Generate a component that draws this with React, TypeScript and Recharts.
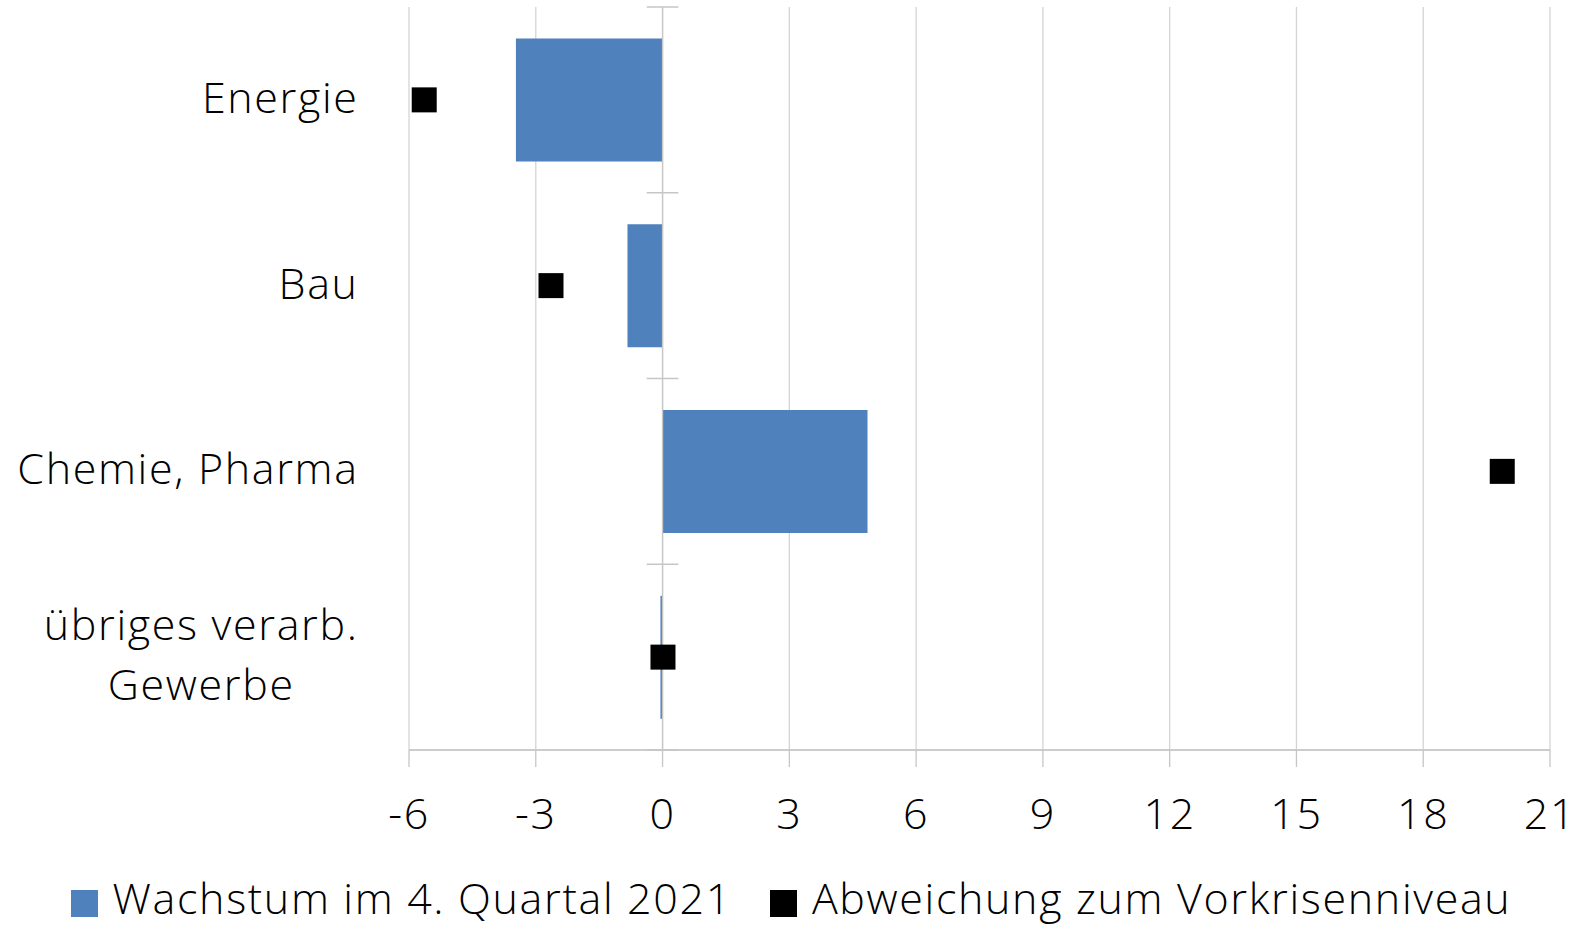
import React from "react";
import {
  ComposedChart,
  Bar,
  Line,
  XAxis,
  YAxis,
  CartesianGrid,
  ReferenceLine,
  Legend,
} from "recharts";

const categories = ["Energie", "Bau", "Chemie, Pharma", "übriges verarb. Gewerbe"];
const growthQ4 = [-3.47, -0.83, 4.85, -0.05];
const deviationPreCrisis = [-5.64, -2.64, 19.87, 0.01];
const xTicks = [-6, -3, 0, 3, 6, 9, 12, 15, 18, 21];
const seriesNames = ["Wachstum im 4. Quartal 2021", "Abweichung zum Vorkrisenniveau"];
const seriesColors = ["#4F81BD", "#000000"];
const categoryBoundaries = [0, 1, 2, 3, 4];

const data = categories.map((name, i) => ({
  name,
  growth: growthQ4[i],
  dev: deviationPreCrisis[i],
  slot: i + 0.5,
}));

const FONT = "'Open Sans', 'DejaVu Sans', sans-serif";
const FONT_SIZE = 43;
const FONT_WEIGHT = 300;
const LS = 1.65;
const GRID = "#d4d4d4";
const AXIS = "#c6c6c6";

let measureCtx: CanvasRenderingContext2D | null = null;
function measure(s: string): number {
  if (!measureCtx) {
    const c = document.createElement("canvas");
    measureCtx = c.getContext("2d");
  }
  if (!measureCtx) return s.length * (FONT_SIZE * 0.5 + LS);
  measureCtx.font = `${FONT_WEIGHT} ${FONT_SIZE}px ${FONT}`;
  return measureCtx.measureText(s).width + LS * (s.length - 1);
}

function wrap(s: string, maxW: number): string[] {
  const words = s.split(" ");
  const lines: string[] = [];
  let cur = "";
  for (const w of words) {
    const t = cur ? cur + " " + w : w;
    if (cur && measure(t) > maxW) {
      lines.push(cur);
      cur = w;
    } else {
      cur = t;
    }
  }
  if (cur) lines.push(cur);
  return lines;
}

function CategoryTick(props: any) {
  const { x, y, payload } = props;
  const lines = wrap(String(payload.value), 400);
  const widths = lines.map(measure);
  const block = Math.max(...widths);
  const cx = x - block / 2;
  const lh = 60;
  const first = y + 13 - ((lines.length - 1) * lh) / 2;
  return (
    <text
      fontFamily={FONT}
      fontSize={FONT_SIZE}
      fontWeight={FONT_WEIGHT}
      letterSpacing={LS}
      fill="#000"
      textAnchor="middle"
    >
      {lines.map((l, i) => (
        <tspan key={i} x={cx + LS / 2} y={first + i * lh}>
          {l}
        </tspan>
      ))}
    </text>
  );
}

function SquareDot(props: any) {
  const { cx, cy, index } = props;
  if (cx == null || cy == null) return <g key={index} />;
  const s = 25;
  return <rect key={index} x={cx - s / 2} y={cy - s / 2} width={s} height={s} fill="#000" />;
}

function LegendContent() {
  return (
    <div
      style={{
        display: "flex",
        justifyContent: "center",
        alignItems: "flex-start",
        width: "100%",
        height: 50,
        fontFamily: FONT,
        fontSize: FONT_SIZE,
        fontWeight: FONT_WEIGHT,
        letterSpacing: LS,
        lineHeight: "44px",
        color: "#000",
        whiteSpace: "nowrap",
      }}
    >
      {seriesNames.map((n, i) => (
        <div
          key={n}
          style={{ display: "flex", alignItems: "flex-start", marginLeft: i === 0 ? 0 : 38 }}
        >
          <div
            style={{
              width: 27,
              height: 27,
              marginTop: 14,
              marginRight: 15,
              background: seriesColors[i],
              flex: "none",
            }}
          />
          <span>{n}</span>
        </div>
      ))}
    </div>
  );
}

export default function App() {
  return (
    <div style={{ position: "absolute", left: 0, top: 0, width: 1582, height: 926, background: "#fff" }}>
      <ComposedChart
        width={1582}
        height={926}
        data={data}
        layout="vertical"
        margin={{ top: 7, right: 32, left: 0, bottom: 0 }}
        barCategoryGap="17%"
      >
        <CartesianGrid horizontal={false} vertical={true} stroke={GRID} strokeWidth={1.3} />
        <XAxis
          type="number"
          domain={[-6, 21]}
          ticks={xTicks}
          interval={0}
          allowDataOverflow
          height={126}
          tickSize={17}
          tickMargin={31}
          axisLine={{ stroke: AXIS, strokeWidth: 1.3 }}
          tickLine={{ stroke: AXIS, strokeWidth: 1.3 }}
          tick={{ fontFamily: FONT, fontSize: FONT_SIZE, fontWeight: FONT_WEIGHT, fill: "#000", letterSpacing: LS }}
        />
        <YAxis
          type="category"
          dataKey="name"
          width={409}
          axisLine={false}
          tickLine={false}
          tickSize={0}
          tickMargin={52}
          interval={0}
          tick={<CategoryTick />}
        />
        <YAxis
          yAxisId="num"
          type="number"
          dataKey="slot"
          domain={[0, 4]}
          allowDataOverflow
          reversed
          hide
        />
        <ReferenceLine yAxisId="num" y={0} stroke={GRID} strokeWidth={1.3} ifOverflow="extendDomain" />
        <ReferenceLine x={0} yAxisId="num" stroke={AXIS} strokeWidth={1.3} />
        {categoryBoundaries.map((b) => (
          <ReferenceLine
            key={b}
            yAxisId="num"
            ifOverflow="extendDomain"
            segment={[
              { x: -0.375, y: b },
              { x: 0.375, y: b },
            ]}
            stroke={AXIS}
            strokeWidth={1.3}
          />
        ))}
        <Bar dataKey="growth" name={seriesNames[0]} fill={seriesColors[0]} isAnimationActive={false} />
        <Line
          dataKey="dev"
          name={seriesNames[1]}
          stroke="none"
          dot={<SquareDot />}
          activeDot={false}
          isAnimationActive={false}
        />
        <Legend
          verticalAlign="bottom"
          height={50}
          content={<LegendContent />}
          wrapperStyle={{ left: 0, width: 1582, height: 50 }}
        />
      </ComposedChart>
    </div>
  );
}
